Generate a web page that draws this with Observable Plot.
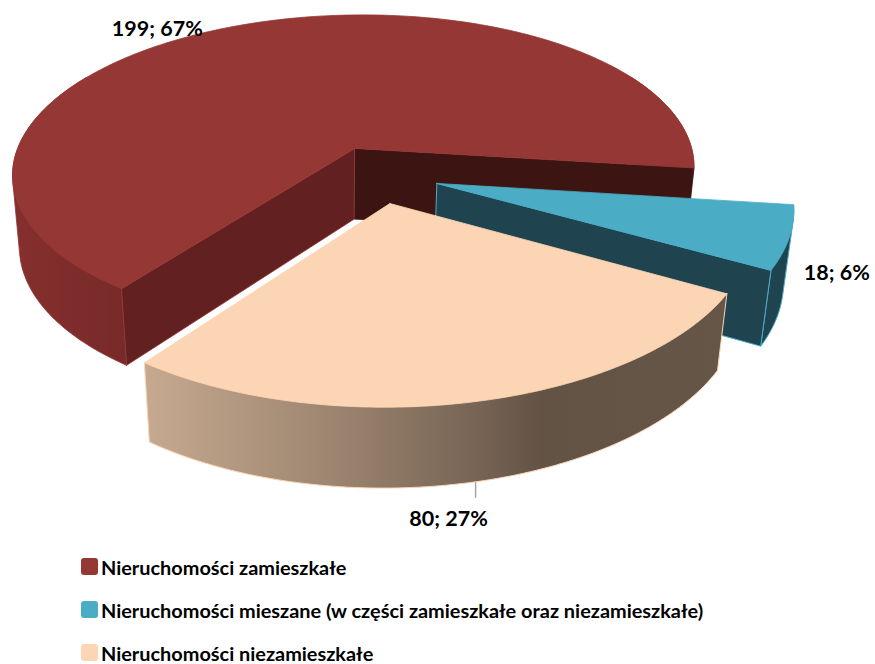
<!DOCTYPE html>
<html lang="pl">
<head>
<meta charset="utf-8">
<script src="https://cdn.jsdelivr.net/npm/d3@7"></script>
<script src="https://cdn.jsdelivr.net/npm/@observablehq/plot@0.6"></script>
<style>
html,body{margin:0;padding:0;background:#fff;overflow:hidden}
svg{display:block}
#legend{position:relative;width:875px;height:119px;overflow:hidden;font:bold 19.9px Lato,sans-serif;color:#000}
.row{position:absolute;left:81px;height:43px;display:flex;align-items:center;white-space:nowrap}
.sw{width:17px;height:17px;border-radius:3px;margin-right:3px;flex:none}
</style>
</head>
<body>
<div id="chart"></div>
<div id="legend"></div>
<script>
const categories = ["Nieruchomości zamieszkałe","Nieruchomości mieszane (w części zamieszkałe oraz niezamieszkałe)","Nieruchomości niezamieszkałe"];
const values = [199, 18, 80];
const topColors = ["#953735","#4bacc6","#fcd5b5"];

// projection of the tilted pie: a unit disc seen in perspective
const cam = {xc:419, yc:163.7, rx:341, ry:160, p:0.15, q:0.022, h:73, zx:-2};
const firstAngle = 216;
const apexes = [[-0.193,-0.1],[0.05,0.118],[-0.0837,0.237]];
const radii = [[1.003,0.985],[1.015,1],[1.015,1]];
const W = 875, H = 545;

const total = d3.sum(values);
const rad = d => d*Math.PI/180;
let acc = firstAngle;
const slices = values.map((v,i)=>{
  const a0 = acc, a1 = acc + v/total*360; acc = a1;
  return {i, v, a0, a1, mid:(a0+a1)/2, apex:apexes[i], r:radii[i]};
});
function proj(wx,wy,z){
  const d = 1 - cam.p*wy + cam.q*z;
  return {x: cam.xc + cam.rx*wx/d + cam.zx*z, y: cam.yc + (cam.ry*wy + cam.h*z)/d};
}
const rim = (s,ang,z) => proj(s.apex[0]+s.r[0]*Math.sin(rad(ang)), s.apex[1]-s.r[1]*Math.cos(rad(ang)), z);
const centre = (s,z) => proj(s.apex[0], s.apex[1], z);
const arc = (s,a0,a1,z) => { const n = Math.max(2,Math.ceil(Math.abs(a1-a0))); return d3.range(n+1).map(k=>rim(s,a0+(a1-a0)*k/n,z)); };
const close = pts => [...pts, pts[0]];
const topFace = s => close([centre(s,0), ...arc(s,s.a0,s.a1,0)]);
// the outer wall is the hull of its top and bottom arcs, so that the silhouette edge is included
const sideFace = (s,a0,a1) => {
  const pts = [...arc(s,a0,a1,0), ...arc(s,a0,a1,1)];
  const hull = d3.polygonHull(pts.map(p=>[p.x,p.y]));
  return close(hull.map(([x,y])=>({x,y})));
};
const cutFace = (s,ang) => close([centre(s,0), rim(s,ang,0), rim(s,ang,1), centre(s,1)]);
const poly = (pts,fill,stroke,sw=1) => Plot.line(pts,{x:"x",y:"y",fill,stroke,strokeWidth:sw,curve:"linear",strokeLinejoin:"round"});

const [red,teal,peach] = slices;
const defs = () => {
  const svg = d3.create("svg:defs");
  const grad = (id,x1,x2,stops) => {
    const g = svg.append("linearGradient").attr("id",id).attr("gradientUnits","userSpaceOnUse")
      .attr("x1",x1).attr("x2",x2).attr("y1",0).attr("y2",0);
    stops.forEach(([o,c])=>g.append("stop").attr("offset",o).attr("stop-color",c));
  };
  grad("peachWall",145,727,[[0,"#c6aa90"],[0.32,"#9d8570"],[0.55,"#7a6757"],[0.68,"#635345"],[1,"#665647"]]);
  grad("redWall",15,125,[[0,"#852f2e"],[1,"#772a29"]]);
  return svg.node();
};

const labelOffsets = [[-87,5],[58,-39],[-24,37]];
const labels = slices.map((s,i)=>{
  const p = rim(s,s.mid,i===0?0:1);
  return {x:p.x+labelOffsets[i][0], y:p.y+labelOffsets[i][1],
          text:`${s.v}; ${Math.round(s.v/total*100)}%`};
});
const lead = rim(peach,peach.mid,1);
const leader = [{x:lead.x+3,y:lead.y-1},{x:lead.x+3,y:lead.y+15}];

const chart = Plot.plot({
  width:W, height:H, margin:0,
  x:{domain:[0,W],range:[0,W],axis:null},
  y:{domain:[0,H],range:[0,H],axis:null},
  marks:[
    defs,
    poly(sideFace(red,red.a0,300),"url(#redWall)","#8f3533",0.8),
    poly(sideFace(red,60,red.a1-360),"#772a29","#953735",0.8),
    poly(cutFace(red,red.a1),"#3c1512","#3c1512",0.5),
    poly(cutFace(red,red.a0),"#632021","#953735",0.8),
    poly(topFace(red),topColors[0],topColors[0],0.8),
    poly(sideFace(teal,teal.a0,teal.a1),"#1f4450",topColors[1],1),
    poly(cutFace(teal,teal.a1),"#1f4450",topColors[1],1),
    poly(topFace(teal),topColors[1],topColors[1],0.8),
    Plot.line(leader,{x:"x",y:"y",stroke:"#a6a6a6",strokeWidth:1.5}),
    poly(sideFace(peach,peach.a0,peach.a1),"url(#peachWall)",topColors[2],1),
    poly(topFace(peach),topColors[2],topColors[2],0.8),
    Plot.text(labels,{x:"x",y:"y",text:"text",fontFamily:"Lato",fontWeight:"bold",fontSize:21.5,fill:"#000",lineAnchor:"middle",textAnchor:"middle"})
  ]
});
document.getElementById("chart").append(chart);
const legend = d3.select("#legend");
categories.forEach((c,i)=>{
  const r = legend.append("div").attr("class","row").style("top",(i*43)+"px");
  r.append("span").attr("class","sw").style("background",topColors[i]);
  r.append("span").text(c);
});
</script>
</body>
</html>
